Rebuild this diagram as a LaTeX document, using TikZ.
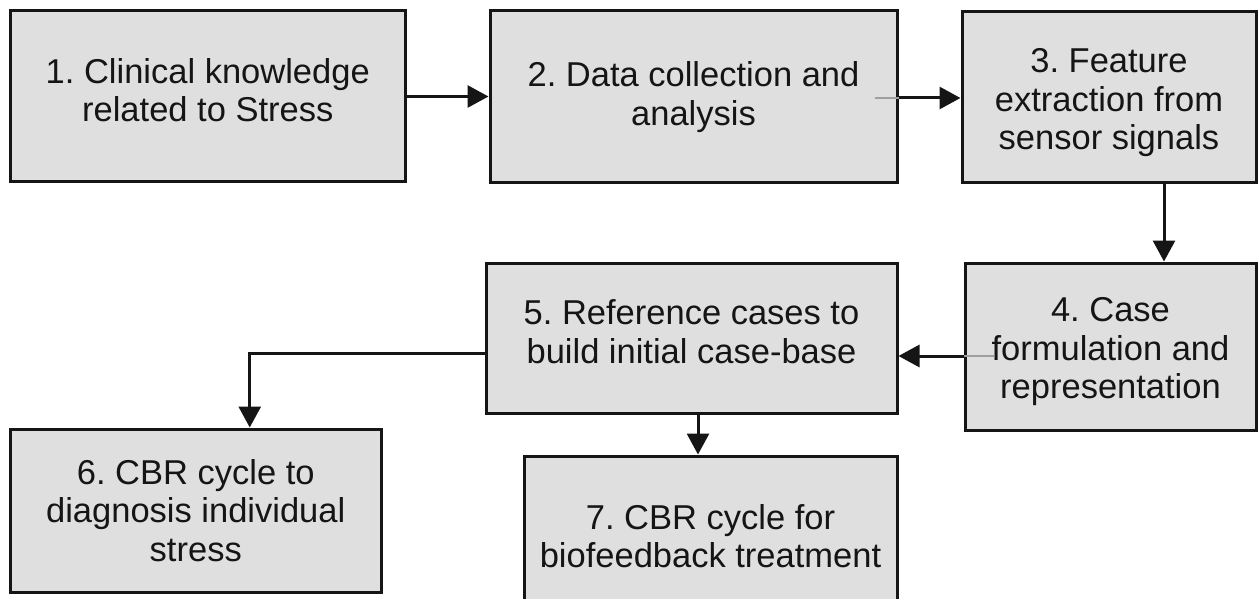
\documentclass[tikz,border=0pt]{standalone}
\usepackage{fontspec}
\setmainfont{Liberation Sans}
\usetikzlibrary{arrows.meta}
\definecolor{boxfill}{HTML}{DFDFDF}
\definecolor{ink}{HTML}{151515}
\frenchspacing
\begin{document}
\begin{tikzpicture}[x=1pt,y=1pt,
  box/.style={draw=ink, line width=3pt, fill=boxfill, rectangle, inner sep=0pt},
  txt/.style={font=\fontsize{34.5}{38.5}\selectfont\frenchspacing, align=center, text=ink, inner sep=0pt},
  conn/.style={draw=ink, line width=3pt, -{Triangle[length=21pt,width=22pt]}},
  faint/.style={draw=gray!75, line width=1.8pt}]
\useasboundingbox (0,0) rectangle (1259,-599);
\begin{scope}
\clip (0,0) rectangle (1259,-599);
% boxes
\node[box, minimum width=394.5, minimum height=171] (b1) at (207.75,-96.5) {};
\node[box, minimum width=407, minimum height=172] (b2) at (693.5,-97) {};
\node[box, minimum width=294, minimum height=171.5] (b3) at (1109,-97.25) {};
\node[box, minimum width=291, minimum height=167] (b4) at (1110.5,-346.5) {};
\node[box, minimum width=411, minimum height=150] (b5) at (691.5,-338) {};
\node[box, minimum width=370.5, minimum height=163] (b6) at (195.75,-510.5) {};
\node[box, minimum width=373, minimum height=164] (b7) at (710.5,-538) {};
% texts
\node[txt] (t1) at (207.75,-90) {1. Clinical knowledge\\related to Stress};
\node[txt] (t2) at (693.5,-97) {2. Data collection and\\analysis};
\node[txt] (t3) at (1109,-103) {3. Feature\\extraction from\\sensor signals};
\node[txt] (t4) at (1110.5,-352) {4. Case\\formulation and\\representation};
\node[txt] (t5) at (691.5,-331.5) {5. Reference cases to\\build initial case-base};
\node[txt] (t6) at (195.75,-510.5) {6. CBR cycle to\\diagnosis individual\\stress};
\node[txt] (t7) at (710.5,-536) {7. CBR cycle for\\biofeedback treatment};
% connectors
\draw[conn] (b1.east) -- (b1.east -| b2.west);
\draw[faint] ([xshift=-24pt,yshift=-1pt]b2.east) -- ([yshift=-1pt]b2.east);
\draw[conn] ([yshift=-1pt]b2.east) -- ([yshift=-1pt]b2.east -| b3.west);
\draw[conn] ([xshift=55pt]b3.south) -- ([xshift=55pt]b3.south |- b4.north);
\draw[faint] ([xshift=30pt,yshift=-9.5pt]b4.west) -- ([yshift=-9.5pt]b4.west);
\draw[conn] ([yshift=-9.5pt]b4.west) -- ([yshift=-9.5pt]b4.west -| b5.east);
\draw[conn] ([yshift=-15pt]b5.west) -| ([xshift=54pt]b6.north);
\draw[conn] ([xshift=6.5pt]b5.south) -- ([xshift=6.5pt]b5.south |- b7.north);
\end{scope}
\end{tikzpicture}
\end{document}
